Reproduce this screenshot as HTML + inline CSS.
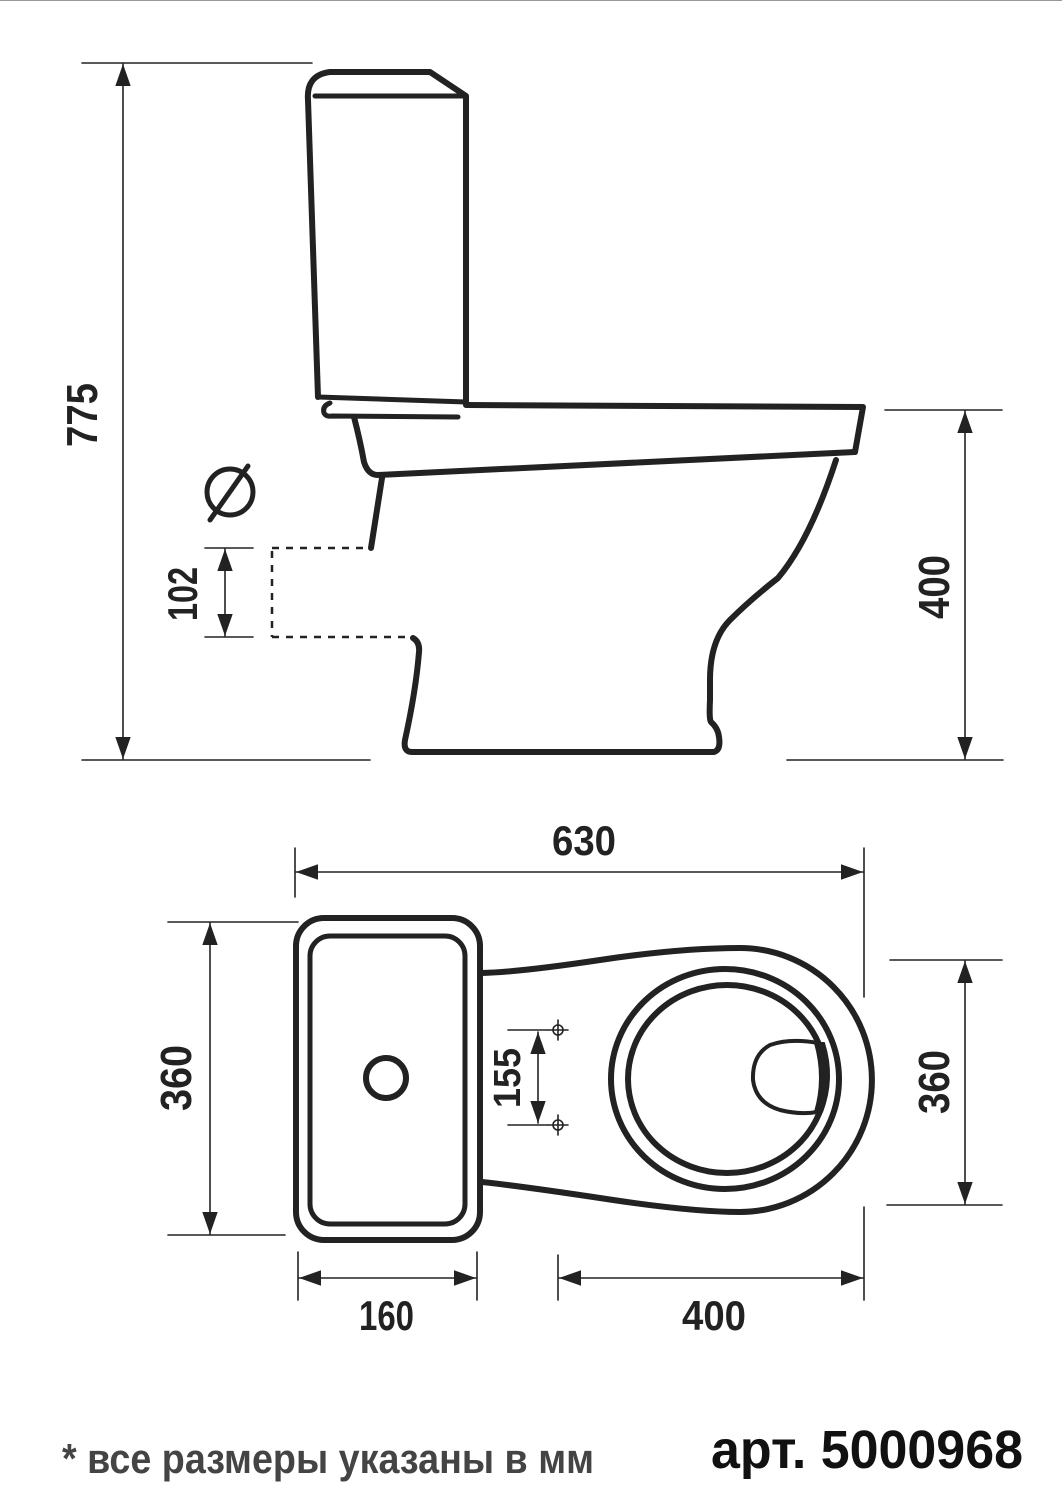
<!DOCTYPE html>
<html><head><meta charset="utf-8"><style>
html,body{margin:0;padding:0;background:#fff}
svg{display:block}
text{font-family:"Liberation Sans","DejaVu Sans",sans-serif;font-weight:bold}
</style></head><body>
<svg width="1062" height="1500" viewBox="0 0 1062 1500" xmlns="http://www.w3.org/2000/svg">
<defs>
<marker id="a" viewBox="0 0 10 10" refX="10" refY="5" markerWidth="22" markerHeight="22" markerUnits="userSpaceOnUse" orient="auto-start-reverse">
<path d="M0,1.5 L10,5 L0,8.5 Z" fill="#222"/></marker>
</defs>
<line x1="0" y1="0.5" x2="1062" y2="0.5" stroke="#999" stroke-width="1"/>
<g stroke="#222" fill="none" stroke-linecap="round" stroke-linejoin="round">
<!-- dimension lines side -->
<g stroke-width="1.6">
<line x1="82" y1="63" x2="312" y2="63"/><line x1="82" y1="760" x2="370" y2="760"/>
<line x1="123" y1="64" x2="123" y2="759" marker-start="url(#a)" marker-end="url(#a)"/>
<line x1="885" y1="410" x2="1002" y2="410"/><line x1="787" y1="760" x2="1003" y2="760"/>
<line x1="965" y1="411" x2="965" y2="759" marker-start="url(#a)" marker-end="url(#a)"/>
<line x1="205" y1="548" x2="253" y2="548"/><line x1="205" y1="637" x2="253" y2="637"/>
<line x1="225" y1="549" x2="225" y2="636" marker-start="url(#a)" marker-end="url(#a)"/>
</g>
<g stroke-width="2.5" stroke-dasharray="7,7" stroke-linecap="butt">
<line x1="272" y1="548" x2="365" y2="548"/><line x1="272" y1="637" x2="410" y2="637"/>
<line x1="272" y1="551" x2="272" y2="637"/>
</g>
<circle cx="230" cy="492" r="23" stroke-width="5"/>
<line x1="210" y1="520" x2="248" y2="466" stroke-width="5"/>
<!-- tank side -->
<g stroke-width="6">
<path d="M318,397 L308,100 Q306,75 330,72 L430,72 L466,96 L466,404"/>
<line x1="315" y1="96" x2="466" y2="96" stroke-width="5"/>
<line x1="318" y1="397" x2="466" y2="402" stroke-width="5"/>
<path d="M466,405 L863,407 L855,452"/>
<path d="M330,403 Q322,406 324,413 Q326,417 332,416 L458,417" stroke-width="5"/>
<path d="M354,417 Q360,440 364,462 Q368,475 378,475 L855,452"/>
<path d="M382,478 L371,548"/>
<path d="M413,638 Q420,642 419,652 Q416,690 405,740 Q403,752 412,752 L714,752 Q721,750 719,737 Q718,728 711,722 Q709,720 710,700 L710,680 Q710,640 730,620 Q750,600 778,578 Q810,540 836,460"/>
</g>
<!-- top view dims -->
<g stroke-width="1.6">
<line x1="295" y1="848" x2="295" y2="897"/><line x1="864" y1="848" x2="864" y2="997"/>
<line x1="296" y1="872" x2="863" y2="872" marker-start="url(#a)" marker-end="url(#a)"/>
<line x1="168" y1="922" x2="298" y2="922"/><line x1="168" y1="1235" x2="285" y2="1235"/>
<line x1="210" y1="923" x2="210" y2="1234" marker-start="url(#a)" marker-end="url(#a)"/>
<line x1="890" y1="960" x2="1002" y2="960"/><line x1="887" y1="1205" x2="1002" y2="1205"/>
<line x1="965" y1="961" x2="965" y2="1204" marker-start="url(#a)" marker-end="url(#a)"/>
<line x1="298" y1="1252" x2="298" y2="1300"/><line x1="477" y1="1252" x2="477" y2="1300"/>
<line x1="299" y1="1278" x2="476" y2="1278" marker-start="url(#a)" marker-end="url(#a)"/>
<line x1="558" y1="1255" x2="558" y2="1300"/><line x1="864" y1="1207" x2="864" y2="1300"/>
<line x1="559" y1="1278" x2="863" y2="1278" marker-start="url(#a)" marker-end="url(#a)"/>
<line x1="508" y1="1030" x2="548" y2="1030"/><line x1="508" y1="1125" x2="548" y2="1125"/>
<line x1="538" y1="1032" x2="538" y2="1123" marker-start="url(#a)" marker-end="url(#a)"/>
<circle cx="558" cy="1030" r="5"/><line x1="558" y1="1020" x2="558" y2="1040"/><line x1="548" y1="1030" x2="568" y2="1030"/>
<circle cx="558" cy="1125" r="5"/><line x1="558" y1="1115" x2="558" y2="1135"/><line x1="548" y1="1125" x2="568" y2="1125"/>
</g>
<!-- top view body -->
<g stroke-width="6">
<rect x="296" y="918" width="184" height="322" rx="28"/>
<rect x="310" y="936" width="155" height="288" rx="20" stroke-width="5"/>
<circle cx="386" cy="1078" r="20"/>
<path d="M482,973 Q520,972 600,960 Q680,948 740,948 A132,132 0 0 1 740,1212 Q690,1212 600,1198 Q520,1186 482,1182"/>
<ellipse cx="725" cy="1079" rx="114" ry="110"/>
<ellipse cx="727" cy="1079" rx="99" ry="94"/>
<path d="M818,1043 Q790,1038 770,1045 Q752,1055 753,1080 Q756,1103 780,1110 Q800,1115 817,1112" stroke-width="4"/>
<path d="M815,1043 L824,1043 Q835,1078 822,1112 L815,1112 Q825,1078 815,1043 Z" fill="#222" stroke-width="2"/>
</g>
</g>
<!-- labels -->
<g fill="#222">
<text transform="translate(97,447) rotate(-90)" font-size="44" textLength="64" lengthAdjust="spacingAndGlyphs">775</text>
<text transform="translate(949,619) rotate(-90)" font-size="44" textLength="64" lengthAdjust="spacingAndGlyphs">400</text>
<text transform="translate(197,621) rotate(-90)" font-size="42" textLength="54" lengthAdjust="spacingAndGlyphs">102</text>
<text x="552" y="855" font-size="42" textLength="64" lengthAdjust="spacingAndGlyphs">630</text>
<text transform="translate(191,1111) rotate(-90)" font-size="44" textLength="66" lengthAdjust="spacingAndGlyphs">360</text>
<text transform="translate(949,1114) rotate(-90)" font-size="44" textLength="64" lengthAdjust="spacingAndGlyphs">360</text>
<text transform="translate(520,1108) rotate(-90)" font-size="38" textLength="60" lengthAdjust="spacingAndGlyphs">155</text>
<text x="359" y="1330" font-size="42" textLength="55" lengthAdjust="spacingAndGlyphs">160</text>
<text x="682" y="1330" font-size="42" textLength="64" lengthAdjust="spacingAndGlyphs">400</text>
<text x="62" y="1473" font-size="42" fill="#444" textLength="532" lengthAdjust="spacingAndGlyphs">* все размеры указаны в мм</text>
<text x="711" y="1468" font-size="54" fill="#111" textLength="312" lengthAdjust="spacingAndGlyphs">арт. 5000968</text>
</g>
</svg>
</body></html>
